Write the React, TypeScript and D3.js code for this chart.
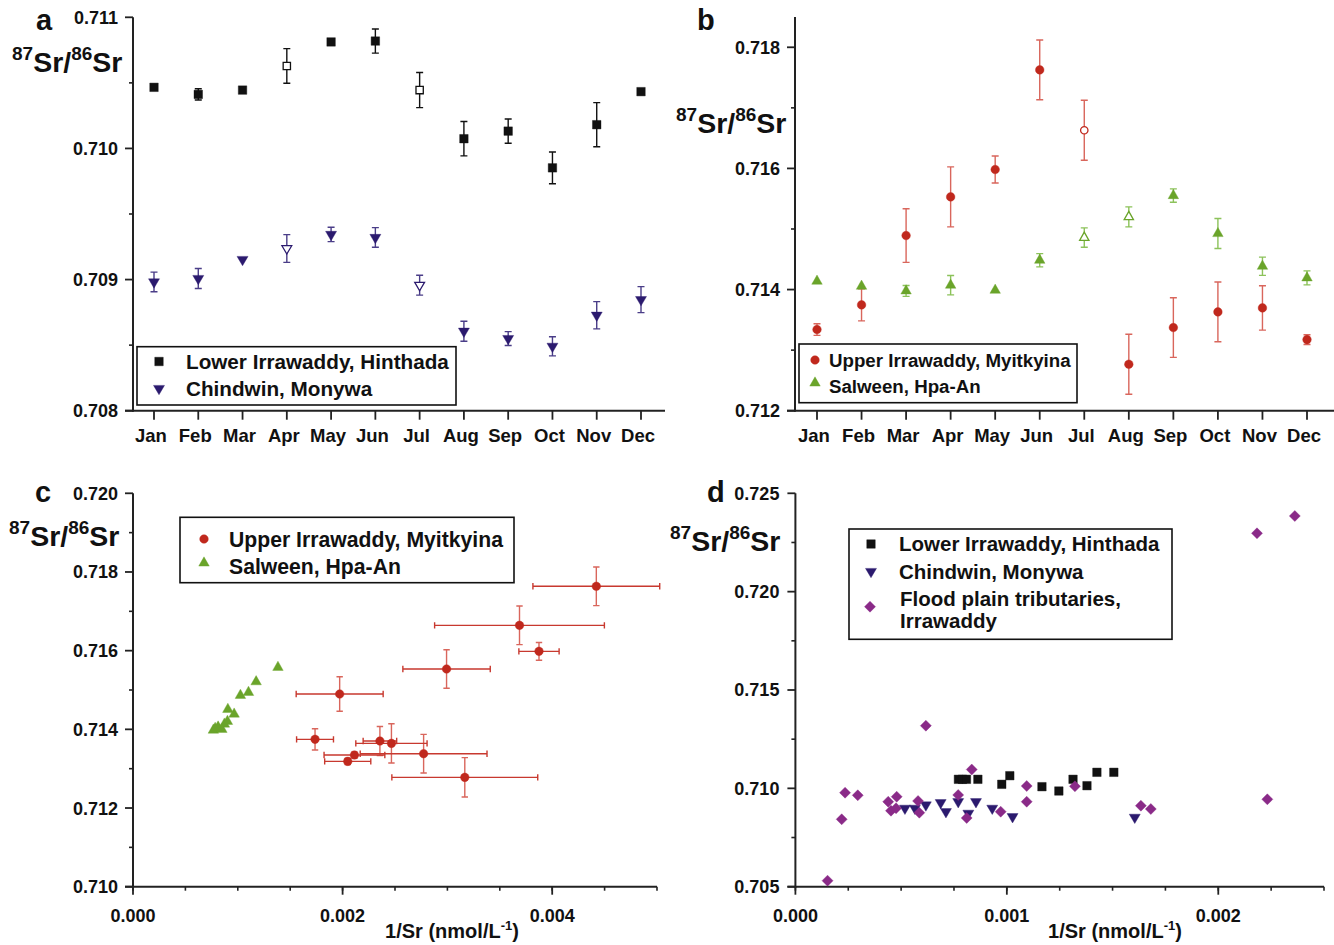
import React from 'react'
import * as d3 from 'd3'

const months = ['Jan', 'Feb', 'Mar', 'Apr', 'May', 'Jun', 'Jul', 'Aug', 'Sep', 'Oct', 'Nov', 'Dec']

// a: monthly 87Sr/86Sr, Lower Irrawaddy and Chindwin
const hinthadaRatio = [0.710466, 0.710412, 0.710445, 0.710629, 0.710812, 0.710819, 0.710445, 0.710074, 0.710132, 0.709852, 0.710181, 0.710433]
const hinthadaErr = [0, 0.000043, 0, 0.000132, 0, 0.000092, 0.000134, 0.000131, 0.000093, 0.000121, 0.000168, 0]
const hinthadaOpen = [3, 6]
const chindwinRatio = [0.708982, 0.709008, 0.709153, 0.709237, 0.709344, 0.709321, 0.708957, 0.708606, 0.70855, 0.708491, 0.708728, 0.708847]
const chindwinErr = [0.000075, 0.000076, 0, 0.000106, 0.000055, 0.000075, 0.000076, 0.000076, 0.000053, 0.000073, 0.000104, 0.000099]
const chindwinOpen = [3, 6]

// b: monthly 87Sr/86Sr, Upper Irrawaddy and Salween
const myitkyinaRatio = [0.71334, 0.713747, 0.714892, 0.71553, 0.715982, 0.717627, 0.71663, 0.712767, 0.713373, 0.713631, 0.713697, 0.713174]
const myitkyinaErr = [0.000096, 0.000264, 0.000443, 0.000495, 0.000223, 0.000493, 0.000495, 0.000495, 0.000493, 0.000493, 0.000366, 0.00008]
const myitkyinaOpen = [6]
const salweenRatio = [0.714138, 0.714055, 0.713978, 0.714072, 0.713989, 0.714484, 0.714858, 0.7152, 0.715552, 0.714925, 0.714385, 0.714193]
const salweenErr = [0, 0, 0.00009, 0.00016, 0, 0.00011, 0.00016, 0.000165, 0.00011, 0.000248, 0.00015, 0.000116]
const salweenOpen = [6, 7]

// c: 87Sr/86Sr against 1/Sr
const myitkyinaInvSr = [0.002113, 0.001737, 0.001972, 0.002992, 0.003874, 0.004421, 0.003688, 0.003166, 0.002773, 0.002466, 0.002356, 0.002049]
const myitkyinaInvSrErr = [0.00029, 0.000176, 0.000415, 0.000417, 0.000192, 0.000605, 0.00081, 0.000696, 0.000605, 0.00034, 0.00016, 0.00022]
const myitkyinaRatioC = [0.713347, 0.713746, 0.714898, 0.715534, 0.715983, 0.717636, 0.716644, 0.71278, 0.713381, 0.713644, 0.713703, 0.713186]
const myitkyinaRatioErrC = [0.00008, 0.00027, 0.00044, 0.00049, 0.000225, 0.00049, 0.00049, 0.0005, 0.00049, 0.0005, 0.00037, 0.00008]
const salweenInvSr = [0.000872, 0.000812, 0.000767, 0.000784, 0.000848, 0.000905, 0.001025, 0.001175, 0.001383, 0.001102, 0.000965, 0.000901]
const salweenRatioC = [0.714134, 0.714059, 0.71398, 0.714025, 0.714, 0.714508, 0.714864, 0.71521, 0.715576, 0.71494, 0.714388, 0.714203]

// d: 87Sr/86Sr against 1/Sr, incl. flood plain tributaries
const hinthadaInvSr = [0.000771, 0.00079, 0.000809, 0.000863, 0.000976, 0.001014, 0.001166, 0.001246, 0.001313, 0.001379, 0.001426, 0.001506]
const hinthadaRatioD = [0.71046, 0.71046, 0.71046, 0.71046, 0.710206, 0.710643, 0.710084, 0.709865, 0.71046, 0.710135, 0.710816, 0.710816]
const chindwinInvSr = [0.000518, 0.000565, 0.000617, 0.000687, 0.000712, 0.00077, 0.000818, 0.000854, 0.000931, 0.001027, 0.001605]
const chindwinRatioD = [0.708986, 0.708986, 0.709154, 0.70927, 0.708813, 0.709321, 0.708732, 0.709321, 0.708986, 0.708559, 0.708528]
const floodInvSr = [0.000152, 0.000219, 0.000235, 0.000295, 0.000439, 0.000452, 0.000476, 0.000479, 0.00058, 0.000586, 0.000617, 0.00077, 0.00081, 0.000834, 0.000971, 0.001094, 0.001094, 0.001322, 0.001634, 0.001681, 0.002183, 0.002232, 0.002362]
const floodRatio = [0.705305, 0.708426, 0.709779, 0.709647, 0.709321, 0.708864, 0.708986, 0.709575, 0.709357, 0.708762, 0.713185, 0.709662, 0.708493, 0.710958, 0.708813, 0.710119, 0.709321, 0.710104, 0.709118, 0.70895, 0.722966, 0.709443, 0.723846]

const FONT = "'Liberation Sans', Arial, Helvetica, sans-serif"
const AXIS = '#222'
const BLACK = '#111'
const NAVY = '#2b1a6e'
const NAVY_ERR = '#4a3d88'
const RED = '#c0281d'
const RED_ERR = '#d9665c'
const RED_XERR = '#c8392f'
const GREEN = '#6aa42a'
const GREEN_ERR = '#8cc25a'
const PURPLE = '#8a2a88'

type Shape = 'square' | 'triUp' | 'triDown' | 'circle' | 'diamond'

function markerPath(shape: Shape, s: number) {
  const p = d3.path()
  if (shape === 'square') {
    p.rect(-s / 2, -s / 2, s, s)
  } else if (shape === 'triUp') {
    const h = s * 0.88
    p.moveTo(0, -h * 2 / 3); p.lineTo(s / 2, h / 3); p.lineTo(-s / 2, h / 3); p.closePath()
  } else if (shape === 'triDown') {
    const h = s * 0.85
    p.moveTo(0, h * 2 / 3); p.lineTo(s / 2, -h / 3); p.lineTo(-s / 2, -h / 3); p.closePath()
  } else if (shape === 'diamond') {
    p.moveTo(0, -s / 2); p.lineTo(s / 2, 0); p.lineTo(0, s / 2); p.lineTo(-s / 2, 0); p.closePath()
  } else {
    p.arc(0, 0, s / 2, 0, Math.PI * 2)
  }
  return p.toString()
}

function Marker({ shape, x, y, color, size, open = false }: { shape: Shape; x: number; y: number; color: string; size: number; open?: boolean }) {
  return (
    <path d={markerPath(shape, open ? size - 1.2 : size)} transform={`translate(${x},${y})`}
      fill={open ? '#fff' : color} stroke={color} strokeWidth={open ? 1.3 : 0.4} />
  )
}

function VErr({ x, y0, y1, cap, color }: { x: number; y0: number; y1: number; cap: number; color: string }) {
  return <path d={`M${x - cap},${y0}H${x + cap}M${x},${y0}V${y1}M${x - cap},${y1}H${x + cap}`} stroke={color} strokeWidth={1.4} fill="none" />
}

function HErr({ y, x0, x1, cap, color }: { y: number; x0: number; x1: number; cap: number; color: string }) {
  return <path d={`M${x0},${y - cap}V${y + cap}M${x0},${y}H${x1}M${x1},${y - cap}V${y + cap}`} stroke={color} strokeWidth={1.4} fill="none" />
}

function YAxis({ scale, x, major, minor, fmt, gap = 15 }: { scale: d3.ScaleLinear<number, number>; x: number; major: number[]; minor: number[]; fmt: (v: number) => string; gap?: number }) {
  const [r0, r1] = scale.range()
  return (
    <g>
      <line x1={x} x2={x} y1={r0 + 1} y2={r1} stroke={AXIS} strokeWidth={2} />
      {minor.map((v, i) => <line key={'m' + i} x1={x - 4} x2={x} y1={scale(v)} y2={scale(v)} stroke={AXIS} strokeWidth={1.6} />)}
      {major.map((v, i) => (
        <g key={i}>
          <line x1={x - 8} x2={x} y1={scale(v)} y2={scale(v)} stroke={AXIS} strokeWidth={1.8} />
          <text x={x - gap} y={scale(v)} dy="0.36em" textAnchor="end" fontSize={18} fontWeight="bold" fill={BLACK}>{fmt(v)}</text>
        </g>
      ))}
    </g>
  )
}

function XAxisLinear({ scale, y, major, minor, fmt, x0 }: { scale: d3.ScaleLinear<number, number>; y: number; major: number[]; minor: number[]; fmt: (v: number) => string; x0: number }) {
  const [, r1] = scale.range()
  return (
    <g>
      <line x1={x0 - 8} x2={r1} y1={y} y2={y} stroke={AXIS} strokeWidth={2} />
      {minor.map((v, i) => <line key={'m' + i} x1={scale(v)} x2={scale(v)} y1={y} y2={y + 4} stroke={AXIS} strokeWidth={1.6} />)}
      {major.map((v, i) => (
        <g key={i}>
          <line x1={scale(v)} x2={scale(v)} y1={y} y2={y + 8} stroke={AXIS} strokeWidth={1.8} />
          <text x={scale(v)} y={y + 35} textAnchor="middle" fontSize={18} fontWeight="bold" fill={BLACK}>{fmt(v)}</text>
        </g>
      ))}
    </g>
  )
}

function XAxisMonths({ scale, y, x0, x1 }: { scale: d3.ScalePoint<string>; y: number; x0: number; x1: number }) {
  return (
    <g>
      <line x1={x0 - 8} x2={x1} y1={y} y2={y} stroke={AXIS} strokeWidth={2} />
      {months.map(m => (
        <g key={m}>
          <line x1={scale(m)} x2={scale(m)} y1={y} y2={y + 9} stroke={AXIS} strokeWidth={1.8} />
          <text x={(scale(m) as number) - 3} y={y + 31} textAnchor="middle" fontSize={18.5} fontWeight="bold" fill={BLACK}>{m}</text>
        </g>
      ))}
    </g>
  )
}

function SrLabel({ x, y }: { x: number; y: number }) {
  return (
    <text x={x} y={y} fontWeight="bold" fill={BLACK}>
      <tspan fontSize={19} dy={-12}>87</tspan>
      <tspan fontSize={28.5} dy={12}>Sr/</tspan>
      <tspan fontSize={19} dy={-12}>86</tspan>
      <tspan fontSize={28.5} dy={12}>Sr</tspan>
    </text>
  )
}

function InvSrTitle({ x, y }: { x: number; y: number }) {
  return (
    <text x={x} y={y} textAnchor="middle" fontWeight="bold" fontSize={20} fill={BLACK}>
      1/Sr (nmol/L<tspan fontSize={13} dy={-8}>-1</tspan><tspan dy={8}>)</tspan>
    </text>
  )
}

function LegendBox({ x, y, w, h, children }: { x: number; y: number; w: number; h: number; children: React.ReactNode }) {
  return (
    <g>
      <rect x={x} y={y} width={w} height={h} fill="#fff" stroke={BLACK} strokeWidth={1.6} />
      {children}
    </g>
  )
}

function LegendText({ x, y, size, children }: { x: number; y: number; size: number; children: React.ReactNode }) {
  return <text x={x} y={y} dy="0.36em" fontSize={size} fontWeight="bold" fill={BLACK}>{children}</text>
}

const fmt3 = d3.format('.3f')

export default function App() {
  // panel a
  const ax = d3.scalePoint<string>().domain(months).range([154, 641])
  const ay = d3.scaleLinear().domain([0.708, 0.711]).range([410.7, 17.3])
  // panel b
  const bx = d3.scalePoint<string>().domain(months).range([817, 1307])
  const by = d3.scaleLinear().domain([0.712, 0.7185]).range([410.7, 17])
  // panel c
  const cx = d3.scaleLinear().domain([0, 0.005]).range([133, 657])
  const cy = d3.scaleLinear().domain([0.71, 0.72]).range([886.7, 493.3])
  // panel d
  const dx = d3.scaleLinear().domain([0, 0.0025]).range([795.4, 1324])
  const dy = d3.scaleLinear().domain([0.705, 0.725]).range([886.7, 493.3])

  const seq = (a: number, b: number, step: number) => d3.range(Math.round((b - a) / step) + 1).map(i => +(a + i * step).toFixed(6))

  return (
    <svg width={1334} height={945} style={{ position: 'absolute', left: 0, top: 0, background: '#fff' }} fontFamily={FONT}>
      {/* ---------- a ---------- */}
      <text x={36} y={30} fontSize={29} fontWeight="bold" fill={BLACK}>a</text>
      <SrLabel x={12} y={72} />
      <YAxis scale={ay} x={133} major={seq(0.708, 0.711, 0.001)} minor={seq(0.7085, 0.7105, 0.001)} fmt={fmt3} />
      <XAxisMonths scale={ax} y={410.7} x0={133} x1={665} />
      {months.map((m, i) => hinthadaErr[i] > 0 &&
        <VErr key={'ha' + i} x={ax(m) as number} y0={ay(hinthadaRatio[i] + hinthadaErr[i])} y1={ay(hinthadaRatio[i] - hinthadaErr[i])} cap={3.5} color={BLACK} />)}
      {months.map((m, i) => chindwinErr[i] > 0 &&
        <VErr key={'ca' + i} x={ax(m) as number} y0={ay(chindwinRatio[i] + chindwinErr[i])} y1={ay(chindwinRatio[i] - chindwinErr[i])} cap={3.5} color={NAVY_ERR} />)}
      {months.map((m, i) => <Marker key={'hm' + i} shape="square" x={ax(m) as number} y={ay(hinthadaRatio[i])} color={BLACK} size={8.5} open={hinthadaOpen.includes(i)} />)}
      {months.map((m, i) => <Marker key={'cm' + i} shape="triDown" x={ax(m) as number} y={ay(chindwinRatio[i])} color={NAVY} size={11} open={chindwinOpen.includes(i)} />)}
      <LegendBox x={137} y={346.7} w={319} h={58.3}>
        <Marker shape="square" x={159} y={361.5} color={BLACK} size={8.5} />
        <LegendText x={186} y={361.5} size={20.7}>Lower Irrawaddy, Hinthada</LegendText>
        <Marker shape="triDown" x={159} y={388.5} color={NAVY} size={11} />
        <LegendText x={186} y={389} size={20.7}>Chindwin, Monywa</LegendText>
      </LegendBox>

      {/* ---------- b ---------- */}
      <text x={697} y={30} fontSize={29} fontWeight="bold" fill={BLACK}>b</text>
      <SrLabel x={676} y={133} />
      <YAxis scale={by} x={795} major={seq(0.712, 0.718, 0.002)} minor={seq(0.713, 0.717, 0.002)} fmt={fmt3} />
      <XAxisMonths scale={bx} y={410.7} x0={795} x1={1334} />
      {months.map((m, i) => myitkyinaErr[i] > 0 &&
        <VErr key={'mb' + i} x={bx(m) as number} y0={by(myitkyinaRatio[i] + myitkyinaErr[i])} y1={by(myitkyinaRatio[i] - myitkyinaErr[i])} cap={3.5} color={RED_ERR} />)}
      {months.map((m, i) => salweenErr[i] > 0 &&
        <VErr key={'sb' + i} x={bx(m) as number} y0={by(salweenRatio[i] + salweenErr[i])} y1={by(salweenRatio[i] - salweenErr[i])} cap={3.5} color={GREEN_ERR} />)}
      {months.map((m, i) => <Marker key={'mbm' + i} shape="circle" x={bx(m) as number} y={by(myitkyinaRatio[i])} color={RED} size={8.6} open={myitkyinaOpen.includes(i)} />)}
      {months.map((m, i) => <Marker key={'sbm' + i} shape="triUp" x={bx(m) as number} y={by(salweenRatio[i])} color={GREEN} size={10.5} open={salweenOpen.includes(i)} />)}
      <LegendBox x={799} y={344} w={278} h={58.7}>
        <Marker shape="circle" x={815} y={360} color={RED} size={8.6} />
        <LegendText x={829} y={360} size={18.7}>Upper Irrawaddy, Myitkyina</LegendText>
        <Marker shape="triUp" x={815} y={383} color={GREEN} size={10.5} />
        <LegendText x={829} y={386.5} size={18.7}>Salween, Hpa-An</LegendText>
      </LegendBox>

      {/* ---------- c ---------- */}
      <text x={35} y={502} fontSize={29} fontWeight="bold" fill={BLACK}>c</text>
      <SrLabel x={9} y={546} />
      <YAxis scale={cy} x={133} major={seq(0.71, 0.72, 0.002)} minor={seq(0.711, 0.719, 0.002)} fmt={fmt3} />
      <XAxisLinear scale={cx} y={886.7} x0={133} major={[0, 0.002, 0.004]} minor={seq(0, 0.005, 0.0005)} fmt={fmt3} />
      {myitkyinaInvSr.map((v, i) =>
        <VErr key={'cye' + i} x={cx(v)} y0={cy(myitkyinaRatioC[i] + myitkyinaRatioErrC[i])} y1={cy(myitkyinaRatioC[i] - myitkyinaRatioErrC[i])} cap={3.2} color={RED_ERR} />)}
      {myitkyinaInvSr.map((v, i) =>
        <HErr key={'cxe' + i} y={cy(myitkyinaRatioC[i])} x0={cx(v - myitkyinaInvSrErr[i])} x1={Math.min(cx(v + myitkyinaInvSrErr[i]), 662)} cap={3.2} color={RED_XERR} />)}
      {myitkyinaInvSr.map((v, i) => <Marker key={'cm' + i} shape="circle" x={cx(v)} y={cy(myitkyinaRatioC[i])} color={RED} size={8.6} />)}
      {salweenInvSr.map((v, i) => <Marker key={'cs' + i} shape="triUp" x={cx(v)} y={cy(salweenRatioC[i])} color={GREEN} size={10.5} />)}
      <InvSrTitle x={452} y={938} />
      <LegendBox x={180} y={517.3} w={334} h={65.4}>
        <Marker shape="circle" x={204} y={539} color={RED} size={8.6} />
        <LegendText x={229} y={539} size={21.2}>Upper Irrawaddy, Myitkyina</LegendText>
        <Marker shape="triUp" x={204} y={563} color={GREEN} size={10.5} />
        <LegendText x={229} y={566.5} size={21.2}>Salween, Hpa-An</LegendText>
      </LegendBox>

      {/* ---------- d ---------- */}
      <text x={707} y={502} fontSize={29} fontWeight="bold" fill={BLACK}>d</text>
      <SrLabel x={670} y={551} />
      <YAxis scale={dy} x={795.4} major={seq(0.705, 0.725, 0.005)} minor={seq(0.7075, 0.7225, 0.005)} fmt={fmt3} gap={16} />
      <XAxisLinear scale={dx} y={886.7} x0={795.4} major={[0, 0.001, 0.002]} minor={seq(0, 0.0025, 0.00025)} fmt={fmt3} />
      {hinthadaInvSr.map((v, i) => <Marker key={'dh' + i} shape="square" x={dx(v)} y={dy(hinthadaRatioD[i])} color={BLACK} size={8.5} />)}
      {chindwinInvSr.map((v, i) => <Marker key={'dc' + i} shape="triDown" x={dx(v)} y={dy(chindwinRatioD[i])} color={NAVY} size={11} />)}
      {floodInvSr.map((v, i) => <Marker key={'df' + i} shape="diamond" x={dx(v)} y={dy(floodRatio[i])} color={PURPLE} size={11} />)}
      <InvSrTitle x={1115} y={938} />
      <LegendBox x={849} y={529} w={323} h={110.3}>
        <Marker shape="square" x={871} y={544} color={BLACK} size={8.5} />
        <LegendText x={899} y={544} size={20.5}>Lower Irrawaddy, Hinthada</LegendText>
        <Marker shape="triDown" x={871} y={571.5} color={NAVY} size={11} />
        <LegendText x={899} y={571.5} size={20.5}>Chindwin, Monywa</LegendText>
        <Marker shape="diamond" x={870} y={606.7} color={PURPLE} size={11} />
        <LegendText x={900} y={598.3} size={20.5}>Flood plain tributaries,</LegendText>
        <LegendText x={900} y={620.7} size={20.5}>Irrawaddy</LegendText>
      </LegendBox>
    </svg>
  )
}
